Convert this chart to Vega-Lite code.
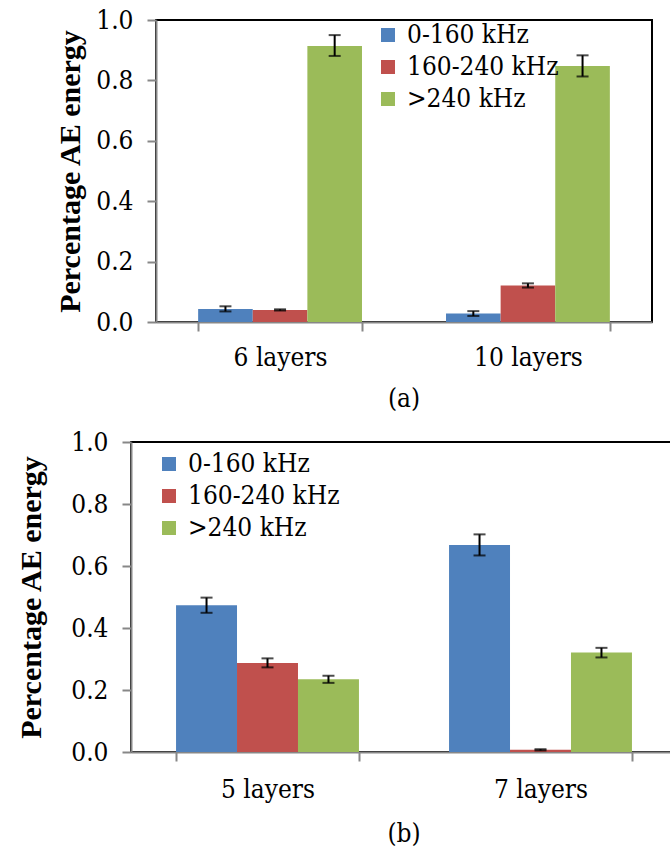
{
  "$schema": "https://vega.github.io/schema/vega-lite/v6.json",
  "background": "white",
  "padding": {"left": 15, "top": 6, "right": 0, "bottom": 0},
  "datasets": {
    "a": [
      {"group": "6 layers", "band": "0-160 kHz", "value": 0.043, "lo": 0.035, "hi": 0.052},
      {"group": "6 layers", "band": "160-240 kHz", "value": 0.040, "lo": 0.038, "hi": 0.042},
      {"group": "6 layers", "band": ">240 kHz", "value": 0.914, "lo": 0.881, "hi": 0.950},
      {"group": "10 layers", "band": "0-160 kHz", "value": 0.028, "lo": 0.020, "hi": 0.036},
      {"group": "10 layers", "band": "160-240 kHz", "value": 0.121, "lo": 0.114, "hi": 0.128},
      {"group": "10 layers", "band": ">240 kHz", "value": 0.848, "lo": 0.813, "hi": 0.883}
    ],
    "b": [
      {"group": "5 layers", "band": "0-160 kHz", "value": 0.473, "lo": 0.449, "hi": 0.498},
      {"group": "5 layers", "band": "160-240 kHz", "value": 0.287, "lo": 0.273, "hi": 0.302},
      {"group": "5 layers", "band": ">240 kHz", "value": 0.235, "lo": 0.223, "hi": 0.246},
      {"group": "7 layers", "band": "0-160 kHz", "value": 0.668, "lo": 0.634, "hi": 0.702},
      {"group": "7 layers", "band": "160-240 kHz", "value": 0.007, "lo": 0.005, "hi": 0.009},
      {"group": "7 layers", "band": ">240 kHz", "value": 0.321, "lo": 0.305, "hi": 0.336}
    ]
  },
  "config": {
    "font": "DejaVu Serif Condensed, DejaVu Serif",
    "view": {"stroke": "black", "strokeWidth": 2},
    "axis": {
      "domainColor": "#878787", "domainWidth": 2,
      "tickColor": "#878787", "tickWidth": 2, "tickSize": 9,
      "labelFont": "DejaVu Serif Condensed, DejaVu Serif", "labelFontSize": 26, "labelColor": "black",
      "titleFont": "Liberation Serif, Times New Roman, serif", "titleFontSize": 30, "titleFontWeight": "bold", "titleColor": "black",
      "grid": false
    },
    "legend": {
      "labelFont": "DejaVu Serif Condensed, DejaVu Serif", "labelFontSize": 26, "labelColor": "black",
      "symbolType": "square", "symbolSize": 196, "symbolStrokeWidth": 0,
      "rowPadding": 6, "labelOffset": 6, "padding": 0
    },
    "title": {"font": "DejaVu Serif Condensed, DejaVu Serif", "fontSize": 26, "fontWeight": "normal", "color": "black"}
  },
  "center": true,
  "spacing": 15,
  "resolve": {
    "scale": {"x": "independent", "y": "independent", "xOffset": "independent", "color": "independent"},
    "legend": {"color": "independent"}
  },
  "vconcat": [
    {
      "width": 496,
      "height": 302,
      "data": {"name": "a"},
      "title": {"text": "(a)", "orient": "bottom", "frame": "group", "offset": 16},
      "encoding": {
        "x": {"field": "group", "type": "nominal", "sort": ["6 layers", "10 layers"],
              "scale": {"paddingInner": 0.339, "paddingOuter": 0.17},
              "axis": {"title": null, "labelAngle": 0, "tickBand": "extent", "labelPadding": 13}},
        "xOffset": {"field": "band", "type": "nominal", "sort": ["0-160 kHz", "160-240 kHz", ">240 kHz"],
                    "scale": {"paddingInner": 0, "paddingOuter": 0}}
      },
      "layer": [
        {
          "mark": {"type": "bar"},
          "encoding": {
            "y": {"field": "value", "type": "quantitative", "title": "Percentage AE energy",
                  "scale": {"domain": [0, 1]},
                  "axis": {"values": [0, 0.2, 0.4, 0.6, 0.8, 1.0], "format": ".1f", "labelPadding": 14, "titlePadding": 10}},
            "color": {"field": "band", "type": "nominal",
                      "scale": {"domain": ["0-160 kHz", "160-240 kHz", ">240 kHz"], "range": ["#4F81BD", "#C0504D", "#9BBB59"]},
                      "legend": {"title": null, "orient": "none", "legendX": 219, "legendY": 2}}
          }
        },
        {
          "mark": {"type": "rule", "color": "black", "strokeWidth": 2},
          "encoding": {
            "y": {"field": "lo", "type": "quantitative", "title": "Percentage AE energy"},
            "y2": {"field": "hi"}
          }
        },
        {
          "mark": {"type": "tick", "color": "black", "thickness": 2, "size": 12},
          "encoding": {"y": {"field": "lo", "type": "quantitative", "title": "Percentage AE energy"}}
        },
        {
          "mark": {"type": "tick", "color": "black", "thickness": 2, "size": 12},
          "encoding": {"y": {"field": "hi", "type": "quantitative", "title": "Percentage AE energy"}}
        }
      ]
    },
    {
      "width": 546,
      "height": 310,
      "data": {"name": "b"},
      "title": {"text": "(b)", "orient": "bottom", "frame": "group", "offset": 19},
      "encoding": {
        "x": {"field": "group", "type": "nominal", "sort": ["5 layers", "7 layers"],
              "scale": {"paddingInner": 0.33, "paddingOuter": 0.165},
              "axis": {"title": null, "labelAngle": 0, "tickBand": "extent", "labelPadding": 15}},
        "xOffset": {"field": "band", "type": "nominal", "sort": ["0-160 kHz", "160-240 kHz", ">240 kHz"],
                    "scale": {"paddingInner": 0, "paddingOuter": 0}}
      },
      "layer": [
        {
          "mark": {"type": "bar"},
          "encoding": {
            "y": {"field": "value", "type": "quantitative", "title": "Percentage AE energy",
                  "scale": {"domain": [0, 1]},
                  "axis": {"values": [0, 0.2, 0.4, 0.6, 0.8, 1.0], "format": ".1f", "labelPadding": 14, "titlePadding": 24}},
            "color": {"field": "band", "type": "nominal",
                      "scale": {"domain": ["0-160 kHz", "160-240 kHz", ">240 kHz"], "range": ["#4F81BD", "#C0504D", "#9BBB59"]},
                      "legend": {"title": null, "orient": "none", "legendX": 25, "legendY": 9}}
          }
        },
        {
          "mark": {"type": "rule", "color": "black", "strokeWidth": 2},
          "encoding": {
            "y": {"field": "lo", "type": "quantitative", "title": "Percentage AE energy"},
            "y2": {"field": "hi"}
          }
        },
        {
          "mark": {"type": "tick", "color": "black", "thickness": 2, "size": 12},
          "encoding": {"y": {"field": "lo", "type": "quantitative", "title": "Percentage AE energy"}}
        },
        {
          "mark": {"type": "tick", "color": "black", "thickness": 2, "size": 12},
          "encoding": {"y": {"field": "hi", "type": "quantitative", "title": "Percentage AE energy"}}
        }
      ]
    }
  ]
}
